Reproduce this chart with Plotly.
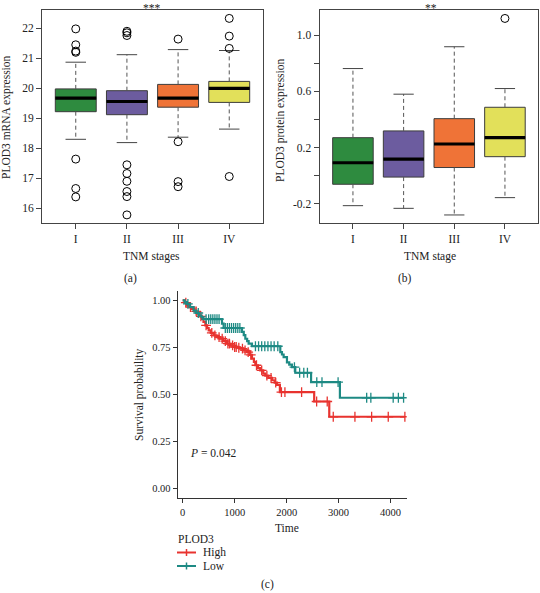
import numpy as np
import plotly.graph_objects as go

# ---------------- data ----------------
stages = ["I", "II", "III", "IV"]
box_colors = ["#2E8B3F", "#6C5C9F", "#EF7337", "#E2E05A"]

# (a) PLOD3 mRNA expression
a_q1 = [19.22, 19.12, 19.37, 19.53]
a_med = [19.67, 19.56, 19.67, 20.00]
a_q3 = [19.98, 19.92, 20.13, 20.23]
a_low = [18.30, 18.19, 18.37, 18.64]
a_up = [20.87, 21.12, 21.29, 21.26]
a_out = [
    [21.98, 21.45, 21.24, 21.20, 17.64, 16.66, 16.38],
    [21.90, 21.85, 21.76, 17.45, 17.16, 16.90, 16.56, 16.39, 15.78],
    [21.64, 18.22, 16.89, 16.72],
    [22.33, 21.74, 21.33, 17.06],
]

# (b) PLOD3 protein expression
b_q1 = [-0.060, -0.009, 0.059, 0.136]
b_med = [0.093, 0.119, 0.226, 0.271]
b_q3 = [0.271, 0.319, 0.406, 0.487]
b_low = [-0.212, -0.231, -0.278, -0.155]
b_up = [0.762, 0.580, 0.917, 0.620]
b_out = [[], [], [], [1.118]]

# (c) Kaplan-Meier, PLOD3 High / Low
groups = ["High", "Low"]
high_t = [0, 40, 80, 120, 180, 230, 275, 320, 372, 400, 436, 470, 500, 540, 596, 650,
          724, 780, 853, 920, 981, 1050, 1109, 1180, 1237, 1290, 1333, 1370, 1397, 1450,
          1493, 1550, 1590, 1650, 1718, 1770, 1814, 1870, 2530, 2820]
high_s = [1.0, 0.988, 0.973, 0.964, 0.955, 0.942, 0.929, 0.915, 0.902, 0.885, 0.867, 0.853,
          0.840, 0.827, 0.814, 0.805, 0.796, 0.783, 0.770, 0.761, 0.752, 0.748, 0.743, 0.734,
          0.725, 0.710, 0.690, 0.673, 0.655, 0.640, 0.628, 0.610, 0.600, 0.588, 0.575, 0.562,
          0.550, 0.512, 0.462, 0.381]
high_cens = [60, 150, 260, 350, 450, 560, 620, 700, 760, 820, 870, 900, 960, 1000, 1030,
             1080, 1150, 1200, 1260, 1310, 1420, 1520, 1620, 1700, 1790, 1900, 1967, 2288,
             2577, 2781, 2897, 3314, 3635, 3955, 4275]

low_t = [0, 40, 80, 140, 210, 260, 310, 360, 400, 756, 788, 1141, 1175, 1205, 1240, 1269,
         1333, 1878, 1910, 1942, 2006, 2050, 2102, 2166, 2470, 3025]
low_s = [1.0, 0.991, 0.982, 0.964, 0.946, 0.933, 0.920, 0.911, 0.900, 0.876, 0.853, 0.832,
         0.815, 0.796, 0.783, 0.770, 0.756, 0.725, 0.712, 0.698, 0.670, 0.658, 0.645, 0.615,
         0.565, 0.482]
low_cens = [100, 300, 450, 500, 540, 580, 620, 660, 700, 820, 860, 900, 940, 980, 1020, 1060,
            1100, 1400, 1460, 1520, 1580, 1640, 1700, 1760, 1830, 2150, 2250, 2330, 2400,
            2580, 2680, 2990, 3540, 3620, 4050, 4150, 4250]

# ---------------- figure ----------------
W, H = 540, 593
FONT = "Liberation Serif"
EDGE = "#3c3c3c"
fig = go.Figure()


def px_x(p):
    return p / W


def px_y(p):
    return 1 - p / H


def add_boxes(xa, ya, q1, med, q3, low, up, outs):
    for i in range(len(stages)):
        fig.add_trace(go.Box(
            x=[i], q1=[q1[i]], median=[med[i]], q3=[q3[i]],
            lowerfence=[q1[i]], upperfence=[q3[i]],
            width=0.8, whiskerwidth=0, fillcolor=box_colors[i],
            line=dict(color=EDGE, width=1), xaxis=xa, yaxis=ya,
            showlegend=False, hoverinfo="skip"))
    wx, wy, cx, cy, mx, my = [], [], [], [], [], []
    for i in range(len(stages)):
        wx += [i, i, None, i, i, None]
        wy += [q3[i], up[i], None, q1[i], low[i], None]
        cx += [i - 0.2, i + 0.2, None, i - 0.2, i + 0.2, None]
        cy += [up[i], up[i], None, low[i], low[i], None]
        mx += [i - 0.4, i + 0.4, None]
        my += [med[i], med[i], None]
    fig.add_trace(go.Scatter(x=wx, y=wy, mode="lines", xaxis=xa, yaxis=ya,
                             line=dict(color="#555555", width=1, dash="4px,3px"),
                             showlegend=False, hoverinfo="skip"))
    fig.add_trace(go.Scatter(x=cx, y=cy, mode="lines", xaxis=xa, yaxis=ya,
                             line=dict(color="#444444", width=1),
                             showlegend=False, hoverinfo="skip"))
    fig.add_trace(go.Scatter(x=mx, y=my, mode="lines", xaxis=xa, yaxis=ya,
                             line=dict(color="black", width=3.2),
                             showlegend=False, hoverinfo="skip"))
    ox, oy = [], []
    for i, vals in enumerate(outs):
        ox += [i] * len(vals)
        oy += vals
    fig.add_trace(go.Scatter(x=ox, y=oy, mode="markers", xaxis=xa, yaxis=ya,
                             marker=dict(symbol="circle-open", size=8,
                                         color="black", line=dict(width=1)),
                             showlegend=False, hoverinfo="skip"))


add_boxes("x", "y", a_q1, a_med, a_q3, a_low, a_up, a_out)
add_boxes("x2", "y2", b_q1, b_med, b_q3, b_low, b_up, b_out)


def km(times, surv, cens, color, name):
    t = list(times) + [max(cens)]
    s = list(surv) + [surv[-1]]
    fig.add_trace(go.Scatter(x=t, y=s, mode="lines", line_shape="hv", name=name,
                             line=dict(color=color, width=2.2), xaxis="x3", yaxis="y3",
                             showlegend=False, hoverinfo="skip"))
    idx = np.searchsorted(np.array(times), np.array(cens), side="right") - 1
    cy = np.array(surv)[idx]
    fig.add_trace(go.Scatter(x=cens, y=cy, mode="markers", xaxis="x3", yaxis="y3",
                             marker=dict(symbol="cross-thin", size=7,
                                         line=dict(color=color, width=1.3)),
                             showlegend=False, hoverinfo="skip"))


RED = "#E8332F"
TEAL = "#1E8A84"
km_colors = [RED, TEAL]
km(high_t, high_s, high_cens, RED, groups[0])
km(low_t, low_s, low_cens, TEAL, groups[1])

tickfont = dict(family=FONT, size=11.5, color="#222")
box_axis = dict(showline=True, mirror=True, linecolor="#444", linewidth=1,
                ticks="outside", ticklen=5, tickcolor="#444", showgrid=False,
                zeroline=False, tickfont=tickfont)

fig.update_layout(
    width=W, height=H, margin=dict(l=0, r=0, t=0, b=0),
    paper_bgcolor="white", plot_bgcolor="white", showlegend=False,
    font=dict(family=FONT, size=11.5, color="#222"),
    xaxis=dict(domain=[px_x(42), px_x(263)], range=[-0.66, 3.66], tickvals=[0, 1, 2, 3],
               ticktext=stages, anchor="y", **box_axis),
    yaxis=dict(domain=[px_y(223), px_y(10)], range=[15.51, 22.61],
               tickvals=[16, 17, 18, 19, 20, 21, 22], anchor="x", **box_axis),
    xaxis2=dict(domain=[px_x(319.5), 0.997], range=[-0.66, 3.66], tickvals=[0, 1, 2, 3],
                ticktext=stages, anchor="y2", **box_axis),
    yaxis2=dict(domain=[px_y(222.7), px_y(10)], range=[-0.333, 1.178],
                tickvals=[-0.2, 0.2, 0.6, 1.0], ticktext=["-0.2", "0.2", "0.6", "1.0"],
                minor=dict(tickvals=[0.0, 0.4, 0.8], ticks="outside", ticklen=5,
                           tickcolor="#444", showgrid=False),
                anchor="x2", **box_axis),
    xaxis3=dict(domain=[px_x(177.7), px_x(406.7)], range=[-96, 4310],
                tickvals=[0, 1000, 2000, 3000, 4000], anchor="y3",
                showline=True, linecolor="#333", linewidth=1, ticks="outside",
                ticklen=4, tickcolor="#333", showgrid=False, zeroline=False,
                tickfont=dict(family=FONT, size=10.5, color="#222")),
    yaxis3=dict(domain=[px_y(498.3), px_y(291)], range=[-0.053, 1.05],
                tickvals=[0, 0.25, 0.5, 0.75, 1.0],
                ticktext=["0.00", "0.25", "0.50", "0.75", "1.00"], anchor="x3",
                showline=True, linecolor="#333", linewidth=1, ticks="outside",
                ticklen=4, tickcolor="#333", showgrid=False, zeroline=False,
                tickfont=dict(family=FONT, size=10.5, color="#222")),
)

ann = dict(showarrow=False, xref="paper", yref="paper", font=dict(family=FONT, size=11.5, color="#222"))
texts = [
    ("PLOD3 mRNA expression", 7, 117, -90, "center"),
    ("PLOD3 protein expression", 280, 120, -90, "center"),
    ("TNM stages", 151.7, 257, 0, "center"),
    ("TNM stage", 429.5, 257, 0, "center"),
    ("(a)", 130, 278, 0, "center"),
    ("(b)", 405, 278, 0, "center"),
    ("Survival probability", 139, 395, -90, "center"),
    ("Time", 286.7, 528, 0, "center"),
    ("<i>P</i> = 0.042", 188, 452.5, 0, "left"),
    ("PLOD3", 176, 539, 0, "left"),
]
for txt, x, y, ang, xa in texts:
    fig.add_annotation(text=txt, x=px_x(x), y=px_y(y), xanchor=xa, yanchor="middle",
                       textangle=ang, **ann)

# significance marks (top edge) and panel label (c)
fig.add_annotation(text="***", x=px_x(151.7), y=1, xanchor="center", yanchor="top", **ann)
fig.add_annotation(text="**", x=px_x(431), y=1, xanchor="center", yanchor="top", **ann)
fig.add_annotation(text="(c)", x=px_x(267.7), y=0, xanchor="center", yanchor="bottom", **ann)

# legend for (c)
for k, (g, col) in enumerate(zip(groups, km_colors)):
    yy = 552.5 + 13.5 * k
    fig.add_shape(type="line", xref="paper", yref="paper", x0=px_x(177), x1=px_x(196),
                  y0=px_y(yy), y1=px_y(yy), line=dict(color=col, width=2))
    fig.add_shape(type="line", xref="paper", yref="paper", x0=px_x(186.5), x1=px_x(186.5),
                  y0=px_y(yy - 3.5), y1=px_y(yy + 3.5), line=dict(color=col, width=1.5))
    fig.add_annotation(text=g, x=px_x(201), y=px_y(yy), xanchor="left", yanchor="middle", **ann)

fig.write_html("out.html", config={"displayModeBar": False},
               post_script="document.body.style.margin='0';document.body.style.overflow='hidden';")
